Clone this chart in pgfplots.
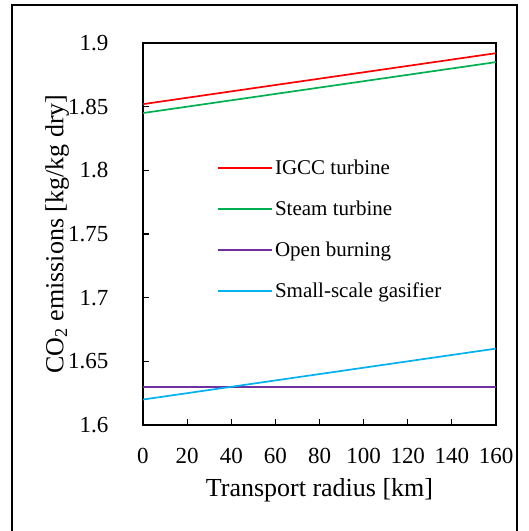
\documentclass[border=0pt]{standalone}
\usepackage{pgfplots}
\pgfplotsset{compat=1.18}
\usepackage{fontspec}
\setmainfont{Liberation Serif}
\definecolor{cRed}{RGB}{255,0,0}
\definecolor{cGreen}{RGB}{0,176,80}
\definecolor{cPurple}{RGB}{112,48,160}
\definecolor{cBlue}{RGB}{0,176,240}
\begin{document}
\begin{tikzpicture}
\useasboundingbox (0pt,0pt) rectangle (529pt,531pt);
\draw[line width=1.3pt] (12pt,-5pt) rectangle (517pt,526pt);
\begin{axis}[
  at={(143pt,106pt)}, anchor=south west,
  scale only axis, width=353pt, height=382pt,
  xmin=0, xmax=160, ymin=1.6, ymax=1.9,
  xtick={0,20,...,160}, ytick={1.6,1.65,...,1.9},
  tick align=inside, xtick pos=bottom, ytick pos=left,
  major tick length=6pt,
  axis line style={line width=1.5pt},
  every tick/.style={line width=1.2pt, black},
  /pgf/number format/assume math mode=true,
  /pgf/number format/fixed,
  tick label style={font=\fontsize{23}{27}\selectfont},
  yticklabel style={xshift=-31pt},
  xticklabel style={yshift=-20pt},
  xlabel={Transport radius [km]},
  ylabel={CO\textsubscript{2} emissions [kg/kg dry]},
  label style={font=\fontsize{26}{30}\selectfont},
  xlabel style={at={(axis description cs:0.5,-0.17)}, anchor=center},
  ylabel style={at={(axis description cs:-0.243,0.5)}, anchor=center},
  legend style={draw=none, fill=none, at={(axis description cs:0.21,0.70)}, anchor=north west,
    font=\fontsize{21}{25}\selectfont, row sep=21pt, inner sep=0pt},
  legend cell align=left,
  legend image code/.code={\draw[#1] (0pt,0pt) -- (54pt,0pt);},
]
\addplot[cRed, line width=1.7pt] coordinates {(0,1.852) (160,1.892)};
\addlegendentry{IGCC turbine}
\addplot[cGreen, line width=1.7pt] coordinates {(0,1.845) (160,1.885)};
\addlegendentry{Steam turbine}
\addplot[cPurple, line width=1.7pt] coordinates {(0,1.63) (160,1.63)};
\addlegendentry{Open burning}
\addplot[cBlue, line width=1.7pt] coordinates {(0,1.62) (160,1.66)};
\addlegendentry{Small-scale gasifier}
\end{axis}
\end{tikzpicture}
\end{document}
